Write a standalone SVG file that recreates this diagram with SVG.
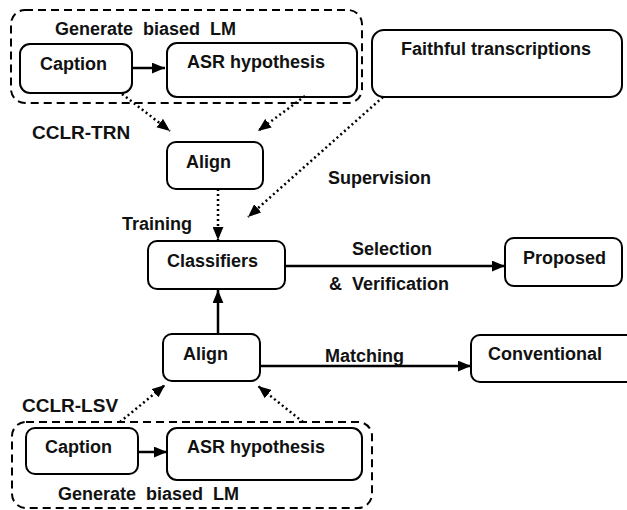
<svg xmlns="http://www.w3.org/2000/svg" width="627" height="510" viewBox="0 0 627 510">
<defs>
<marker id="ah" viewBox="0 0 12 10" refX="12" refY="5" markerWidth="13" markerHeight="11" markerUnits="userSpaceOnUse" orient="auto">
<path d="M0,0 L12,5 L0,10 Z" fill="#000"/>
</marker>
<style>
.box{fill:#fff;stroke:#000;stroke-width:2}
.grp{fill:none;stroke:#000;stroke-width:2;stroke-dasharray:8,5}
text{font-family:"Liberation Sans",Arial,sans-serif;font-weight:bold;font-size:18px;fill:#111;white-space:pre}
.big{font-size:19px}
.solid{fill:none;stroke:#000;stroke-width:2.5}
.dot{fill:none;stroke:#000;stroke-width:2.5;stroke-dasharray:2,3}
</style>
</defs>
<rect width="627" height="510" fill="#fff"/>

<g id="group-top">
<rect class="grp" x="11" y="10" width="351" height="93" rx="14"/>
<text x="55" y="35" xml:space="preserve">Generate  biased  LM</text>
</g>
<g id="caption-top">
<rect class="box" x="20" y="44" width="112" height="49" rx="10"/>
<text x="40" y="70">Caption</text>
</g>
<g id="asr-top">
<rect class="box" x="167" y="43" width="190" height="54" rx="10"/>
<text x="187" y="68">ASR hypothesis</text>
</g>
<g id="faithful">
<rect class="box" x="372" y="30" width="250" height="67" rx="12"/>
<text x="401" y="55">Faithful transcriptions</text>
</g>
<g id="label-cclr-trn">
<text class="big" x="32" y="139">CCLR-TRN</text>
</g>
<g id="align-top">
<rect class="box" x="167" y="142" width="96" height="47" rx="9"/>
<text x="186" y="168">Align</text>
</g>
<g id="classifiers">
<rect class="box" x="148" y="241" width="137" height="48" rx="9"/>
<text x="167" y="267">Classifiers</text>
</g>
<g id="proposed">
<rect class="box" x="505" y="238" width="117" height="48" rx="9"/>
<text x="523" y="264">Proposed</text>
</g>
<g id="align-bottom">
<rect class="box" x="163" y="334" width="97" height="47" rx="9"/>
<text x="183" y="360">Align</text>
</g>
<g id="conventional">
<rect class="box" x="471" y="335" width="166" height="47" rx="9"/>
<text x="488" y="360">Conventional</text>
</g>
<g id="label-cclr-lsv">
<text class="big" x="22" y="412">CCLR-LSV</text>
</g>
<g id="group-bottom">
<rect class="grp" x="12" y="422" width="360" height="86" rx="14"/>
<text x="58" y="500" xml:space="preserve">Generate  biased  LM</text>
</g>
<g id="caption-bottom">
<rect class="box" x="26" y="428" width="112" height="46" rx="9"/>
<text x="45" y="453">Caption</text>
</g>
<g id="asr-bottom">
<rect class="box" x="167" y="428" width="195" height="52" rx="10"/>
<text x="187" y="453">ASR hypothesis</text>
</g>

<g id="connectors">
<line class="solid" x1="132" y1="68" x2="165" y2="68" marker-end="url(#ah)"/>
<line class="dot" x1="122" y1="94" x2="170" y2="131" marker-end="url(#ah)"/>
<line class="dot" x1="305" y1="96" x2="258" y2="131" marker-end="url(#ah)"/>
<line class="dot" x1="383" y1="97" x2="248" y2="217" marker-end="url(#ah)"/>
<line class="dot" x1="218" y1="189" x2="218" y2="240" marker-end="url(#ah)"/>
<line class="solid" x1="285" y1="266" x2="505" y2="266" marker-end="url(#ah)"/>
<line class="solid" x1="218" y1="334" x2="218" y2="290" marker-end="url(#ah)"/>
<line class="solid" x1="260" y1="366" x2="471" y2="366" marker-end="url(#ah)"/>
<line class="dot" x1="120" y1="422" x2="165" y2="385" marker-end="url(#ah)"/>
<line class="dot" x1="303" y1="422" x2="258" y2="386" marker-end="url(#ah)"/>
<line class="solid" x1="138" y1="452" x2="167" y2="452" marker-end="url(#ah)"/>
<text x="328" y="184">Supervision</text>
<text x="122" y="230">Training</text>
<text x="352" y="255">Selection</text>
<text x="329" y="290" xml:space="preserve">&amp;  Verification</text>
<text x="325" y="362">Matching</text>
</g>
</svg>
